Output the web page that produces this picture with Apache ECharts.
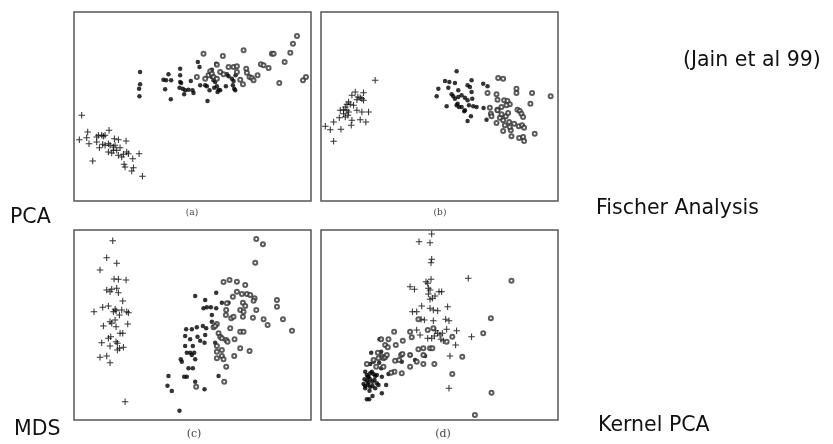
<!DOCTYPE html>
<html>
<head>
<meta charset="utf-8">
<script src="https://cdn.jsdelivr.net/npm/echarts@6/dist/echarts.min.js"></script>
<style>
    html, body { margin: 0; padding: 0; background: #fff; }
    #chart { width: 833px; height: 444px; }
</style>
</head>
<body>
<div id="chart"></div>
<script type="text/javascript">
// point positions (panel-local units, y grows downward)
var aPlus = [[65,315],[83,365],[58,388],[80,382],[87,400],[110,380],[115,375],[125,375],[130,378],[135,375],[147,360],[110,395],[128,402],[145,400],[150,405],[160,410],[165,405],[175,388],[163,385],[198,392],[118,412],[160,420],[180,412],[200,425],[145,425],[155,428],[175,435],[185,440],[205,430],[237,430],[218,445],[98,452],[192,462],[195,470],[220,472],[215,482],[247,498],[170,420],[135,405],[190,432]];
var aFilled = [[240,185],[240,222],[237,235],[238,258],[310,208],[318,210],[325,192],[333,210],[315,237],[332,267],[360,175],[360,195],[360,215],[363,218],[358,232],[368,235],[375,240],[372,252],[385,238],[392,212],[397,240],[400,248],[413,155],[418,170],[420,225],[435,225],[440,228],[442,272],[448,240],[455,200],[460,210],[462,232],[465,215],[470,228],[472,245],[475,238],[468,160],[455,178],[480,240],[497,228],[500,192],[515,205],[518,225],[522,235],[520,212],[505,198],[526,195],[525,240]];
var aOpen = [[430,130],[488,137],[550,120],[470,163],[505,170],[520,170],[530,168],[435,205],[445,195],[450,183],[480,185],[490,192],[530,185],[540,208],[548,222],[558,175],[560,187],[568,200],[575,203],[580,210],[592,195],[602,162],[610,165],[625,173],[635,130],[640,130],[673,155],[657,218],[690,127],[698,100],[710,77],[728,210],[737,200],[455,190],[460,200],[470,205],[410,200]];

var bPlus = [[180,210],[120,245],[145,247],[110,255],[128,260],[135,262],[140,265],[125,268],[100,275],[95,282],[105,282],[115,285],[90,290],[75,300],[85,298],[95,300],[125,300],[140,305],[160,305],[85,310],[98,315],[72,322],[90,320],[110,330],[135,328],[152,335],[55,335],[30,348],[45,358],[77,357],[108,345],[55,393],[100,305],[145,270]];
var bFilled = [[425,183],[390,212],[403,215],[420,218],[470,210],[370,235],[400,232],[430,240],[458,225],[465,230],[365,258],[410,252],[415,258],[420,265],[430,260],[440,255],[450,262],[458,270],[470,245],[472,265],[395,288],[425,285],[432,290],[440,290],[450,300],[448,303],[462,285],[475,288],[485,290],[505,220],[518,228],[506,293],[515,328],[458,332],[468,318],[428,280]];
var bOpen = [[550,203],[565,205],[518,248],[545,252],[548,268],[605,235],[605,248],[652,248],[708,258],[568,270],[578,272],[585,282],[575,285],[560,290],[548,298],[525,292],[528,310],[548,300],[530,318],[545,338],[565,330],[573,318],[580,308],[555,322],[570,345],[583,335],[608,298],[615,302],[620,310],[625,320],[598,340],[612,348],[622,345],[628,352],[588,360],[565,362],[590,378],[613,383],[625,380],[628,392],[660,370],[647,280],[585,350],[560,312]];

var cPlus = [[158,62],[140,113],[170,130],[120,150],[162,177],[175,178],[198,180],[140,210],[155,208],[170,205],[175,218],[150,215],[188,243],[102,275],[128,262],[145,258],[160,275],[165,268],[168,272],[185,270],[200,275],[205,278],[178,285],[150,305],[155,310],[165,300],[130,318],[168,320],[203,312],[145,355],[152,350],[180,340],[125,368],[150,378],[172,370],[168,365],[178,385],[190,382],[172,390],[120,412],[140,408],[150,428],[195,545],[188,340]];
var cFilled = [[405,228],[435,240],[468,218],[485,248],[430,265],[440,262],[452,262],[468,265],[455,285],[455,305],[378,328],[395,328],[410,322],[428,318],[438,325],[375,348],[435,345],[412,350],[390,358],[420,362],[433,368],[465,368],[375,378],[398,378],[380,398],[390,398],[402,398],[362,418],[405,418],[365,425],[385,445],[398,445],[325,468],[372,470],[380,470],[475,468],[322,497],[335,513],[405,485],[433,508],[358,572],[505,248],[395,405]];
var cOpen = [[588,57],[608,73],[585,128],[490,186],[508,180],[530,185],[555,195],[530,215],[518,230],[500,250],[545,222],[560,222],[570,225],[583,235],[548,248],[555,258],[540,270],[550,275],[498,270],[497,285],[513,295],[520,290],[588,270],[578,293],[548,290],[610,298],[622,315],[650,240],[650,260],[668,298],[695,332],[460,322],[470,312],[465,318],[510,325],[540,335],[550,335],[475,340],[480,350],[485,355],[498,360],[523,358],[502,365],[470,378],[470,395],[485,390],[540,385],[568,393],[522,408],[485,408],[490,418],[498,440],[470,415],[492,485],[408,500],[580,242]];

var dPlus = [[350,42],[312,65],[345,68],[350,118],[348,128],[460,175],[348,178],[333,185],[338,190],[285,200],[298,208],[340,205],[345,210],[372,215],[380,215],[340,222],[360,228],[345,238],[352,235],[320,258],[345,265],[355,270],[368,272],[398,260],[292,275],[305,275],[318,298],[328,300],[355,302],[392,298],[402,302],[305,330],[315,345],[338,355],[350,355],[358,348],[362,332],[368,340],[375,345],[382,340],[395,328],[425,332],[470,350],[378,358],[385,362],[422,375],[405,408],[402,505]];
var dFilled = [[150,455],[155,465],[160,470],[165,460],[170,455],[175,462],[180,468],[148,478],[155,482],[160,488],[165,478],[172,485],[178,480],[185,490],[145,492],[150,498],[158,495],[165,500],[172,498],[150,505],[180,505],[190,495],[200,470],[213,495],[200,520],[155,538],[162,538],[172,528],[185,465],[198,445],[220,462],[192,428],[175,425],[165,432],[198,395],[168,398],[193,358],[285,405],[330,408],[300,420],[260,425],[158,470],[163,512]];
var dOpen = [[590,182],[528,295],[505,340],[237,335],[285,335],[310,298],[338,330],[355,325],[198,358],[220,358],[210,375],[218,382],[242,375],[263,362],[290,352],[310,388],[325,385],[345,385],[352,385],[395,365],[412,350],[200,410],[205,415],[210,412],[240,422],[252,420],[258,405],[262,402],[285,405],[305,425],[325,405],[325,432],[285,440],[260,460],[238,455],[228,458],[183,440],[155,432],[175,420],[190,415],[215,405],[358,432],[442,410],[412,462],[530,518],[480,585],[188,398],[205,440]];

var panelLabels = ['(a)', '(b)', '(c)', '(d)'];
var methodNames = ['PCA', 'Fischer Analysis', 'MDS', 'Kernel PCA'];
var sourceNote = '(Jain et al 99)';

(function(){
    var chart = echarts.init(document.getElementById('chart'), null, {renderer: 'canvas'});
    var plusPath = 'path://M4.2,0H5.8V4.2H10V5.8H5.8V10H4.2V5.8H0V4.2H4.2Z';

    var panels = [
        {grid: {left: 74, top: 12, width: 237, height: 189}, x: [42, 752], y: [5, 572], sets: [aPlus, aFilled, aOpen]},
        {grid: {left: 321, top: 12, width: 237, height: 189}, x: [17, 730], y: [5, 572], sets: [bPlus, bFilled, bOpen]},
        {grid: {left: 74, top: 230, width: 237, height: 190}, x: [42, 752], y: [30, 600], sets: [cPlus, cFilled, cOpen]},
        {grid: {left: 321, top: 230, width: 237, height: 190}, x: [17, 730], y: [30, 600], sets: [dPlus, dFilled, dOpen]}
    ];

    var grids = [], xAxes = [], yAxes = [], series = [];
    panels.forEach(function(p, i){
        var g = p.grid;
        g.show = true;
        g.borderColor = '#555';
        g.borderWidth = 1.5;
        g.backgroundColor = 'transparent';
        grids.push(g);
        xAxes.push({gridIndex: i, type: 'value', min: p.x[0], max: p.x[1], show: false});
        yAxes.push({gridIndex: i, type: 'value', min: p.y[0], max: p.y[1], inverse: true, show: false});
        // + class
        series.push({type: 'scatter', xAxisIndex: i, yAxisIndex: i, data: p.sets[0], symbol: plusPath, symbolSize: 6.5,
            itemStyle: {color: '#000'}, silent: true});
        // filled class
        series.push({type: 'scatter', xAxisIndex: i, yAxisIndex: i, data: p.sets[1], symbol: 'circle', symbolSize: 4.5,
            itemStyle: {color: '#000'}, silent: true});
        // open class
        series.push({type: 'scatter', xAxisIndex: i, yAxisIndex: i, data: p.sets[2], symbol: 'emptyCircle', symbolSize: 4,
            itemStyle: {color: '#333', borderWidth: 0.8}, silent: true});
    });

    var labelPos = [[192, 213], [440, 213], [194, 434], [443, 434]];
    var methodPos = [[10, 218], [596, 209], [14, 430], [598, 426]];
    var graphics = [];
    panelLabels.forEach(function(t, i){
        graphics.push({type: 'text', x: labelPos[i][0], y: labelPos[i][1],
            style: {text: t, font: (i < 2 ? 9 : 11) + 'px "DejaVu Serif"', fill: '#444', align: 'center', verticalAlign: 'middle'}});
    });
    methodNames.forEach(function(t, i){
        graphics.push({type: 'text', x: methodPos[i][0], y: methodPos[i][1],
            style: {text: t, font: '20.5px "DejaVu Sans"', fill: '#111', align: 'left', verticalAlign: 'middle'}});
    });
    graphics.push({type: 'text', x: 683, y: 61,
        style: {text: sourceNote, font: '20.5px "DejaVu Sans"', fill: '#111', align: 'left', verticalAlign: 'middle'}});

    chart.setOption({
        animation: false,
        grid: grids,
        xAxis: xAxes,
        yAxis: yAxes,
        series: series,
        graphic: graphics
    });
})();
</script>
</body>
</html>
